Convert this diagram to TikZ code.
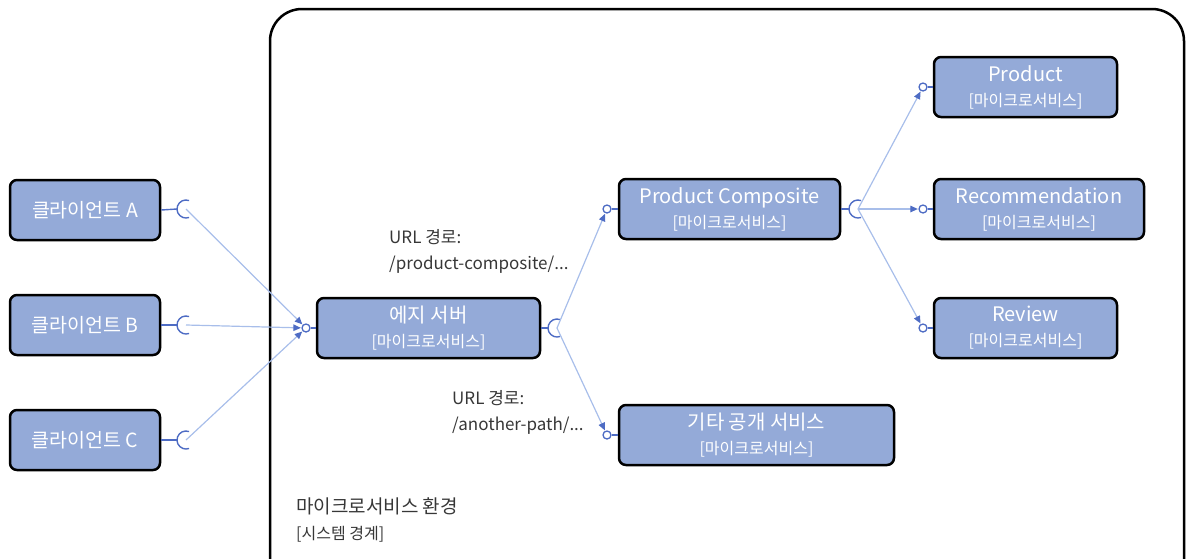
\documentclass[tikz,border=0pt]{standalone}
\usepackage{fontspec}
\setmainfont{Noto Sans CJK KR}
\usetikzlibrary{arrows.meta,calc}
\definecolor{boxfill}{RGB}{148,170,216}
\definecolor{sock}{RGB}{78,108,196}
\definecolor{wirec}{RGB}{168,190,234}
\definecolor{lbl}{RGB}{55,55,55}
\newcommand{\ttl}[1]{{\fontsize{20}{26}\selectfont #1}}
\newcommand{\subt}[1]{{\fontsize{16}{26}\selectfont #1}}
\begin{document}
\begin{tikzpicture}[x=1pt,y=-1pt,
  svc/.style={draw=black, line width=2.5pt, fill=boxfill, rounded corners=7pt,
    minimum height=60pt, inner sep=0pt, text=white, align=center, font=\fontsize{18}{25}\selectfont},
  client/.style={svc, minimum width=150pt, font=\fontsize{19.5}{24}\selectfont},
  lolly/.style={circle, draw=sock, fill=white, line width=1.3pt, minimum size=8pt, inner sep=0pt},
  sockline/.style={draw=sock, line width=1.4pt},
  wire/.style={draw=wirec, line width=1.2pt, -{Triangle[length=7.5pt,width=6.5pt,color=sock]}, shorten >=0.5pt},
  lbltext/.style={text=lbl, align=left, anchor=north west, inner sep=0pt, font=\fontsize{17}{26}\selectfont}
]
\useasboundingbox (0,0) rectangle (1186,558);
\begin{scope}
\clip (0,0) rectangle (1186,558);
\draw[line width=2.5pt, rounded corners=32pt] (270,9) rectangle (1184,640);
\end{scope}

% clients
\node[client] (ca) at (85,210) {클라이언트 A};
\node[client] (cb) at (85,325) {클라이언트 B};
\node[client] (cc) at (85,440) {클라이언트 C};

% services
\node[svc, minimum width=223pt] (es) at (428.5,328) {\ttl{에지 서버}\\\subt{[마이크로서비스]}};
\node[svc, minimum width=221pt] (pc) at (729.5,209) {\ttl{Product Composite}\\\subt{[마이크로서비스]}};
\node[svc, minimum width=275pt] (os) at (756.5,435) {\ttl{기타 공개 서비스}\\\subt{[마이크로서비스]}};
\node[svc, minimum width=183pt] (pr) at (1025.5,87) {\ttl{Product}\\\subt{[마이크로서비스]}};
\node[svc, minimum width=210pt] (rc) at (1039,209) {\ttl{Recommendation}\\\subt{[마이크로서비스]}};
\node[svc, minimum width=183pt] (rv) at (1025.5,328) {\ttl{Review}\\\subt{[마이크로서비스]}};

% socket centres
\coordinate (sA) at (186,209);
\coordinate (sB) at (186,325);
\coordinate (sC) at (186,440);
\coordinate (sE) at (557,328);
\coordinate (sP) at (858,209);

% lollipops
\node[lolly] (lE) at (306,328) {};
\node[lolly] (lPC) at (607,209) {};
\node[lolly] (lOS) at (607,435) {};
\node[lolly] (lPR) at (923,87) {};
\node[lolly] (lRC) at (923,209) {};
\node[lolly] (lRV) at (923,328) {};

% lollipop stems
\draw[sockline] (lE) -- (es.west);
\draw[sockline] (lPC) -- (pc.west);
\draw[sockline] (lOS) -- (os.west);
\draw[sockline] (lPR) -- (pr.west);
\draw[sockline] (lRC) -- (rc.west);
\draw[sockline] (lRV) -- (rv.west);

% sockets
\foreach \b/\s in {ca/sA, cb/sB, cc/sC, es/sE, pc/sP}{
  \draw[sockline] (\b.east) -- ($(\s)+(-9pt,0pt)$);
  \draw[sockline] ($(\s)+(70:9pt)$) arc[start angle=70, end angle=290, radius=9pt];
}

% wires
\draw[wire] (sA) -- (lE);
\draw[wire] (sB) -- (lE);
\draw[wire] (sC) -- (lE);
\draw[wire] (sE) -- (lPC);
\draw[wire] (sE) -- (lOS);
\draw[wire] (sP) -- (lPR);
\draw[wire] (sP) -- (lRC);
\draw[wire] (sP) -- (lRV);

% labels
\node[lbltext] (u1) at (389,229) {URL 경로:\\/product-composite/...};
\node[lbltext] (u2) at (452,390) {URL 경로:\\/another-path/...};
\node[lbltext, font=\fontsize{19}{26}\selectfont] (env) at (296,498) {마이크로서비스 환경\\\fontsize{16}{26}\selectfont[시스템 경계]};
\end{tikzpicture}
\end{document}
